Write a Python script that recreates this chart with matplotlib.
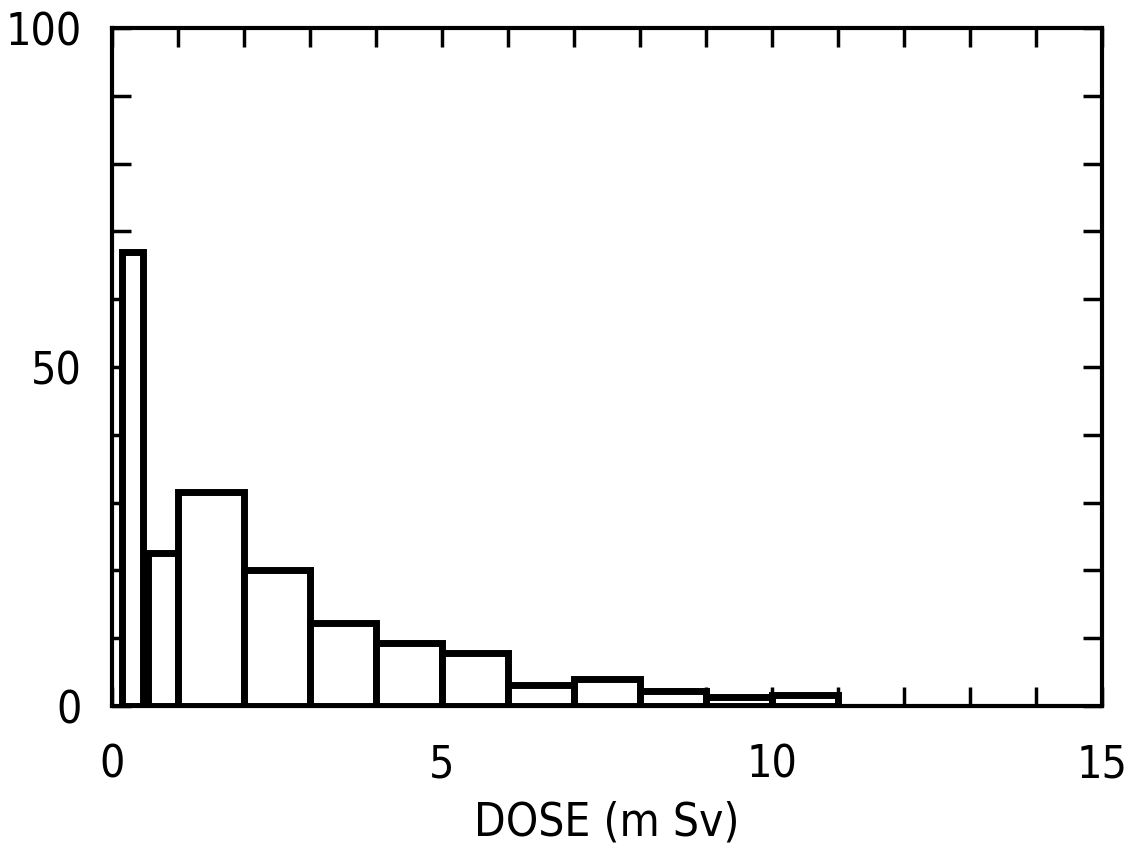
import numpy as np
import matplotlib
matplotlib.use('Agg')
import matplotlib.pyplot as plt
from matplotlib.ticker import MultipleLocator

plt.rcParams['font.family'] = ['DejaVu Sans']
plt.rcParams['font.stretch'] = 'condensed'

# histogram bins (mSv) and bar heights
bin_left  = [0.15, 0.55, 1, 2, 3, 4, 5, 6, 7, 8, 9, 10]
bin_right = [0.47, 1.0, 2, 3, 4, 5, 6, 7, 8, 9, 10, 11]
counts    = [67, 22.6, 31.6, 20, 12.2, 9.3, 7.8, 3.1, 4.0, 2.2, 1.4, 1.6]

xticks = [0, 5, 10, 15]
yticks = [0, 50, 100]

fig = plt.figure(figsize=(11.29, 8.5), dpi=100)
ax = fig.add_axes([0.0992, 0.1694, 0.9761 - 0.0992, 0.967 - 0.1694])

widths = np.array(bin_right) - np.array(bin_left)
ax.bar(bin_left, counts, width=widths, align='edge', facecolor='white',
       edgecolor='black', linewidth=5, zorder=3)

ax.set_xlim(0, 15)
ax.set_ylim(0, 100)
ax.set_xticks(xticks)
ax.set_yticks(yticks)
ax.xaxis.set_minor_locator(MultipleLocator(1))
ax.yaxis.set_minor_locator(MultipleLocator(10))

for s in ax.spines.values():
    s.set_linewidth(3)

# inward ticks on all four sides
ax.tick_params(which='both', direction='in', top=True, right=True,
               length=14, width=2.5, colors='black')
ax.tick_params(axis='x', which='major', labelsize=32, pad=27)
ax.tick_params(axis='y', which='major', labelsize=32, pad=22)

ax.set_xlabel('DOSE (m Sv)', fontsize=33, labelpad=10)

plt.savefig('out.png', dpi=100)
